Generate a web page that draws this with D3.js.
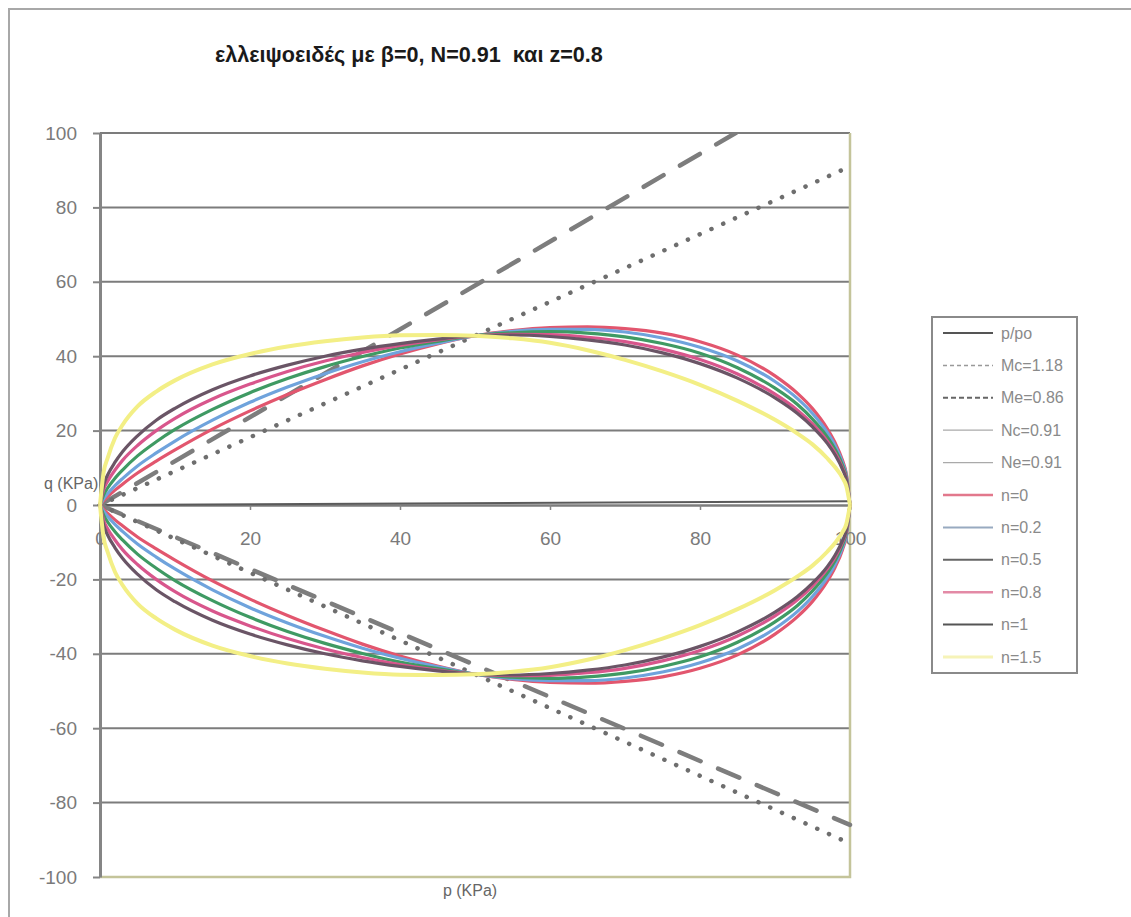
<!DOCTYPE html>
<html>
<head>
<meta charset="utf-8">
<script src="https://cdn.jsdelivr.net/npm/d3@7"></script>
<style>
  html, body { margin: 0; padding: 0; background: #ffffff; }
  svg { display: block; }
  text { font-family: "Liberation Sans", Arial, sans-serif; }
</style>
</head>
<body>
<svg id="chart" width="1131" height="917"></svg>
<script>
// ---- data -------------------------------------------------------------
const titleText = "ελλειψοειδές με β=0, N=0.91  και z=0.8";
const xTicks = [0, 20, 40, 60, 80, 100];
const yTicks = [-100, -80, -60, -40, -20, 0, 20, 40, 60, 80, 100];

// straight reference lines (end points)
const pLine = [0, 100];
const qPpo = [0, 1];
const qMc = [0, 118];
const qMe = [0, -86];
const qNc = [0, 91];
const qNe = [0, -91];

// mean stress p (KPa) at which each yield curve is sampled
const pGrid = [0, 0.5, 1, 2, 3, 5, 7.5, 10, 15, 20, 25, 30, 35, 40, 45, 50,
               55, 60, 65, 70, 75, 80, 85, 90, 93, 95, 97, 98, 99, 99.5, 100];

// deviatoric stress q (KPa), compression branch
const qUp_n0   = [0, 1.2, 2.2, 4.0, 5.6, 8.6, 11.8, 14.8, 20.4, 25.3, 29.7, 33.7, 37.4, 40.6, 43.3, 45.5, 46.9, 47.7, 47.9, 47.4, 46.2, 43.9, 40.3, 34.7, 30.0, 25.9, 20.4, 16.8, 12.0, 8.5, 0];
const qUp_n02  = [0, 1.7, 3.0, 5.2, 7.1, 10.5, 14.0, 17.2, 22.8, 27.6, 31.7, 35.3, 38.5, 41.2, 43.5, 45.5, 46.7, 47.2, 47.2, 46.5, 44.9, 42.4, 38.7, 33.2, 28.6, 24.6, 19.4, 16.0, 11.4, 8.1, 0];
const qUp_n05  = [0, 2.8, 4.5, 7.2, 9.4, 13.2, 17.0, 20.3, 25.7, 30.2, 34.0, 37.2, 39.9, 42.2, 44.0, 45.5, 46.3, 46.6, 46.2, 45.2, 43.4, 40.8, 36.9, 31.4, 27.0, 23.1, 18.2, 15.0, 10.7, 7.6, 0];
const qUp_n08  = [0, 4.2, 6.3, 9.4, 12.0, 16.0, 20.0, 23.3, 28.5, 32.5, 35.9, 38.7, 41.0, 42.9, 44.4, 45.5, 45.9, 45.8, 45.1, 43.9, 41.9, 39.1, 35.2, 29.8, 25.5, 21.8, 17.1, 14.1, 10.0, 7.1, 0];
const qUp_n1   = [0, 5.5, 8.0, 11.5, 14.3, 18.6, 22.8, 26.0, 31.0, 34.7, 37.6, 40.0, 41.9, 43.4, 44.6, 45.5, 45.7, 45.3, 44.4, 43.0, 40.9, 38.0, 34.1, 28.8, 24.6, 21.0, 16.5, 13.5, 9.6, 6.8, 0];
const qUp_n15  = [0, 9.0, 12.5, 18.0, 21.5, 26.5, 30.5, 33.5, 37.8, 40.6, 42.6, 44.0, 45.0, 45.6, 45.7, 45.5, 44.8, 43.6, 41.6, 39.0, 35.9, 32.3, 28.0, 22.9, 19.2, 16.3, 12.5, 10.2, 7.3, 5.2, 0];

// deviatoric stress q (KPa), extension branch
const qLo_n0   = [0, -1.2, -2.2, -4.0, -5.6, -8.6, -11.8, -14.8, -20.4, -25.3, -29.7, -33.7, -37.4, -40.6, -43.3, -45.5, -46.9, -47.7, -47.9, -47.4, -46.2, -43.9, -40.3, -34.7, -30.0, -25.9, -20.4, -16.8, -12.0, -8.5, 0];
const qLo_n02  = [0, -1.7, -3.0, -5.2, -7.1, -10.5, -14.0, -17.2, -22.8, -27.6, -31.7, -35.3, -38.5, -41.2, -43.5, -45.5, -46.7, -47.2, -47.2, -46.5, -44.9, -42.4, -38.7, -33.2, -28.6, -24.6, -19.4, -16.0, -11.4, -8.1, 0];
const qLo_n05  = [0, -2.8, -4.5, -7.2, -9.4, -13.2, -17.0, -20.3, -25.7, -30.2, -34.0, -37.2, -39.9, -42.2, -44.0, -45.5, -46.3, -46.6, -46.2, -45.2, -43.4, -40.8, -36.9, -31.4, -27.0, -23.1, -18.2, -15.0, -10.7, -7.6, 0];
const qLo_n08  = [0, -4.2, -6.3, -9.4, -12.0, -16.0, -20.0, -23.3, -28.5, -32.5, -35.9, -38.7, -41.0, -42.9, -44.4, -45.5, -45.9, -45.8, -45.1, -43.9, -41.9, -39.1, -35.2, -29.8, -25.5, -21.8, -17.1, -14.1, -10.0, -7.1, 0];
const qLo_n1   = [0, -5.5, -8.0, -11.5, -14.3, -18.6, -22.8, -26.0, -31.0, -34.7, -37.6, -40.0, -41.9, -43.4, -44.6, -45.5, -45.7, -45.3, -44.4, -43.0, -40.9, -38.0, -34.1, -28.8, -24.6, -21.0, -16.5, -13.5, -9.6, -6.8, 0];
const qLo_n15  = [0, -9.0, -12.5, -18.0, -21.5, -26.5, -30.5, -33.5, -37.8, -40.6, -42.6, -44.0, -45.0, -45.6, -45.7, -45.5, -44.8, -43.6, -41.6, -39.0, -35.9, -32.3, -28.0, -22.9, -19.2, -16.3, -12.5, -10.2, -7.3, -5.2, 0];

const legendLabels = ["p/po", "Mc=1.18", "Me=0.86", "Nc=0.91", "Ne=0.91",
                      "n=0", "n=0.2", "n=0.5", "n=0.8", "n=1", "n=1.5"];

// ---- layout -----------------------------------------------------------
const svg = d3.select("#chart");
const W = 1131, H = 917;
const plot = { left: 100, right: 850, top: 133, bottom: 877 };

const x = d3.scaleLinear().domain([0, 100]).range([plot.left, plot.right]);
const y = d3.scaleLinear().domain([-100, 100]).range([plot.bottom, plot.top]);

svg.append("rect").attr("width", W).attr("height", H).attr("fill", "#ffffff");

// chart area frame (only the top and left edges fall inside the page)
svg.append("path")
  .attr("d", `M9,${H + 5} L9,9 L${W + 5},9`)
  .attr("fill", "none").attr("stroke", "#a8a8a8").attr("stroke-width", 2);

// title
svg.append("text")
  .attr("x", 215).attr("y", 62)
  .attr("font-size", 21.6).attr("font-weight", "bold").attr("fill", "#1a1a1a")
  .attr("xml:space", "preserve").style("white-space", "pre")
  .text(titleText);

// horizontal grid lines
svg.append("g").selectAll("line")
  .data(yTicks.filter(v => v !== 0 && v !== -100))
  .join("line")
  .attr("x1", plot.left).attr("x2", plot.right)
  .attr("y1", d => y(d)).attr("y2", d => y(d))
  .attr("stroke", "#7c7c7c").attr("stroke-width", 2);

// plot area border (right and bottom)
svg.append("path")
  .attr("d", `M${plot.right},${plot.top} L${plot.right},${plot.bottom} L${plot.left},${plot.bottom}`)
  .attr("fill", "none").attr("stroke", "#c4c49a").attr("stroke-width", 2.5);

const plainNumber = d => String(d);

// y axis
const yAxis = svg.append("g")
  .attr("transform", `translate(${plot.left},0)`)
  .call(d3.axisLeft(y).tickValues(yTicks).tickFormat(plainNumber)
    .tickSizeInner(7).tickSizeOuter(0).tickPadding(16));
yAxis.select(".domain").attr("stroke", "#858585").attr("stroke-width", 3);
yAxis.selectAll(".tick line").attr("stroke", "#858585").attr("stroke-width", 2);
yAxis.selectAll(".tick text").attr("font-size", 19).attr("fill", "#7a7a7a")
  .attr("font-family", "Liberation Sans, Arial, sans-serif");

// x axis along q = 0
const xAxis = svg.append("g")
  .attr("transform", `translate(0,${y(0)})`)
  .call(d3.axisBottom(x).tickValues(xTicks).tickFormat(plainNumber)
    .tickSizeInner(5).tickSizeOuter(0).tickPadding(22));
xAxis.select(".domain").attr("stroke", "#7c7c7c").attr("stroke-width", 2.5);
xAxis.selectAll(".tick line").attr("stroke", "#858585").attr("stroke-width", 1.5);
xAxis.selectAll(".tick text").attr("font-size", 19).attr("fill", "#7a7a7a")
  .attr("font-family", "Liberation Sans, Arial, sans-serif");

// axis titles
svg.append("text").attr("x", 44).attr("y", 489)
  .attr("font-size", 16).attr("fill", "#666").text("q (KPa)");
svg.append("text").attr("x", 470).attr("y", 896).attr("text-anchor", "middle")
  .attr("font-size", 16).attr("fill", "#666").text("p (KPa)");

// ---- series -----------------------------------------------------------
svg.append("clipPath").attr("id", "plotClip")
  .append("rect")
  .attr("x", plot.left - 4).attr("y", plot.top)
  .attr("width", plot.right - plot.left + 8).attr("height", plot.bottom - plot.top);

const g = svg.append("g").attr("clip-path", "url(#plotClip)");

const straight = d3.line().x(d => x(d[0])).y(d => y(d[1]));
const smooth = d3.line().x(d => x(d[0])).y(d => y(d[1])).curve(d3.curveMonotoneX);

const lineSeries = [
  { p: pLine, q: qPpo, stroke: "#5a5a5a", width: 2,   dash: null },
  { p: pLine, q: qMc,  stroke: "#7d7d7d", width: 4.5, dash: "23 19", cap: "round" },
  { p: pLine, q: qMe,  stroke: "#7d7d7d", width: 4.5, dash: "23 19", cap: "round" },
  { p: pLine, q: qNc,  stroke: "#6e6e6e", width: 4.5, dash: "0.1 12.8", cap: "round" },
  { p: pLine, q: qNe,  stroke: "#6e6e6e", width: 4.5, dash: "0.1 12.8", cap: "round" }
];
lineSeries.forEach(s => {
  g.append("path")
    .datum(s.p.map((v, i) => [v, s.q[i]]))
    .attr("d", straight)
    .attr("fill", "none")
    .attr("stroke", s.stroke).attr("stroke-width", s.width)
    .attr("stroke-dasharray", s.dash)
    .attr("stroke-linecap", s.cap || "butt");
});

const curveSeries = [
  { up: qUp_n0,  lo: qLo_n0,  stroke: "#e2566e", width: 3.2 },
  { up: qUp_n02, lo: qLo_n02, stroke: "#6fa3dc", width: 3.2 },
  { up: qUp_n05, lo: qLo_n05, stroke: "#3f9a63", width: 3.2 },
  { up: qUp_n08, lo: qLo_n08, stroke: "#d8568c", width: 3.2 },
  { up: qUp_n1,  lo: qLo_n1,  stroke: "#6a5566", width: 3.2 },
  { up: qUp_n15, lo: qLo_n15, stroke: "#f3ef86", width: 4 }
];
curveSeries.forEach(s => {
  [s.up, s.lo].forEach(arr => {
    g.append("path")
      .datum(pGrid.map((v, i) => [v, arr[i]]))
      .attr("d", smooth)
      .attr("fill", "none")
      .attr("stroke", s.stroke).attr("stroke-width", s.width)
      .attr("stroke-linejoin", "round");
  });
});

// ---- legend -----------------------------------------------------------
const legend = { x: 932, y: 317, w: 145, h: 356, row: 32.4 };
svg.append("rect")
  .attr("x", legend.x).attr("y", legend.y)
  .attr("width", legend.w).attr("height", legend.h)
  .attr("fill", "#fff").attr("stroke", "#8a8a8a").attr("stroke-width", 2);

const legendStyles = [
  { stroke: "#555",    width: 2,   dash: null },
  { stroke: "#999",    width: 1.5, dash: "4 3" },
  { stroke: "#666",    width: 2,   dash: "5 3" },
  { stroke: "#aaa",    width: 1.2, dash: null },
  { stroke: "#aaa",    width: 1.2, dash: null },
  { stroke: "#e2788c", width: 2.5, dash: null },
  { stroke: "#98aac0", width: 2,   dash: null },
  { stroke: "#666",    width: 2,   dash: null },
  { stroke: "#e38aa6", width: 2.5, dash: null },
  { stroke: "#555",    width: 2,   dash: null },
  { stroke: "#f6f3b8", width: 3,   dash: null }
];

const rows = svg.append("g").selectAll("g")
  .data(legendLabels)
  .join("g")
  .attr("transform", (d, i) => `translate(${legend.x},${legend.y + 16 + i * legend.row})`);
rows.append("line")
  .attr("x1", 11).attr("x2", 61).attr("y1", 0).attr("y2", 0)
  .attr("stroke", (d, i) => legendStyles[i].stroke)
  .attr("stroke-width", (d, i) => legendStyles[i].width)
  .attr("stroke-dasharray", (d, i) => legendStyles[i].dash);
rows.append("text")
  .attr("x", 69).attr("y", 5.5)
  .attr("font-size", 16).attr("fill", "#8a8a8a")
  .text(d => d);
</script>
</body>
</html>
